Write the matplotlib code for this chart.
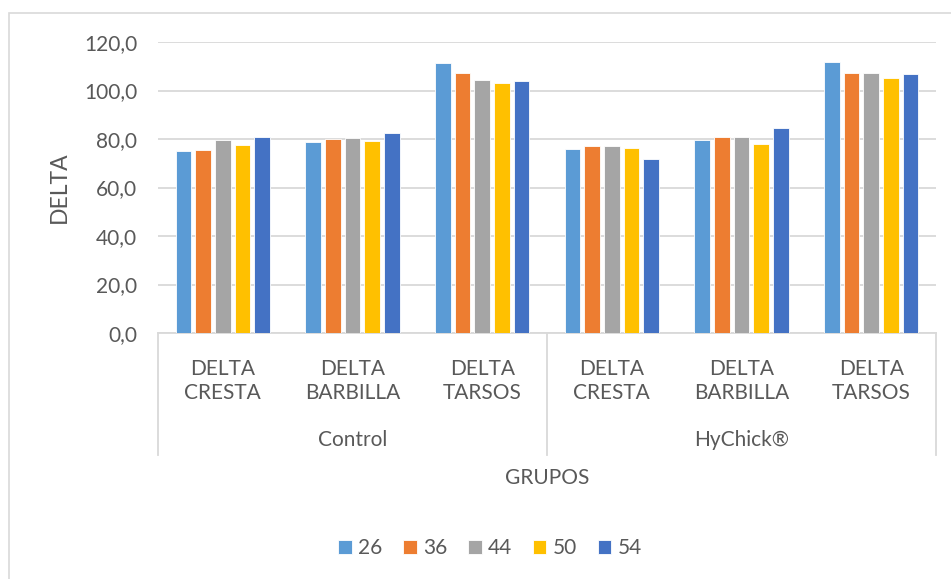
import numpy as np
import matplotlib.pyplot as plt
from matplotlib.patches import Rectangle

plt.rcParams['font.family'] = ['Lato', 'DejaVu Sans']

categories = ["DELTA\nCRESTA", "DELTA\nBARBILLA", "DELTA\nTARSOS",
              "DELTA\nCRESTA", "DELTA\nBARBILLA", "DELTA\nTARSOS"]
groups = ["Control", "HyChick®"]
series = ["26", "36", "44", "50", "54"]
v26 = [75.0, 78.9, 111.5, 75.7, 79.7, 111.9]
v36 = [75.4, 80.1, 107.4, 77.2, 80.9, 107.4]
v44 = [79.6, 80.5, 104.4, 77.1, 80.8, 107.3]
v50 = [77.4, 79.3, 103.2, 76.1, 77.8, 105.3]
v54 = [80.8, 82.6, 103.8, 71.7, 84.6, 106.9]
yticks = [0, 20, 40, 60, 80, 100, 120]

colors = ["#5B9BD5", "#ED7D31", "#A5A5A5", "#FFC000", "#4472C4"]
txt = "#595959"
grid = "#D9D9D9"

W, H = 951, 579
fig = plt.figure(figsize=(W / 100, H / 100), dpi=100)
fig.patches.append(Rectangle((9 / W, -0.1), 1.1, (H - 13) / H + 0.1,
                             transform=fig.transFigure, fill=False,
                             edgecolor=grid, lw=1.2))

ax = fig.add_axes([158 / W, (H - 333) / H, 778 / W, 291 / H])
x = np.arange(len(categories))
pitch, bw = 0.152, 0.121
for i, (name, vals) in enumerate(zip(series, [v26, v36, v44, v50, v54])):
    ax.bar(x + (i - 2) * pitch, vals, bw, color=colors[i], label=name,
           edgecolor="white", linewidth=0.6, zorder=3)

ax.set_xlim(-0.5, len(categories) - 0.5)
ax.set_ylim(0, 120)
ax.set_yticks(yticks)
ax.set_yticklabels([f"{t:.1f}".replace(".", ",") for t in yticks])
ax.tick_params(axis="y", length=0, pad=15, labelsize=15, labelcolor=txt)
ax.tick_params(axis="x", length=0, labelbottom=False)
ax.grid(axis="y", color=grid, lw=1.3, zorder=0)
for s in ["top", "right", "left"]:
    ax.spines[s].set_visible(False)
ax.spines["bottom"].set_color(grid)
ax.spines["bottom"].set_linewidth(1.3)

tr = ax.get_xaxis_transform()
for xv in [-0.5, 2.5, 5.5]:
    ax.plot([xv, xv], [0, -0.419], transform=tr, color=grid, lw=1.3,
            clip_on=False)
for xi, lab in zip(x, categories):
    ax.text(xi, -0.165, lab, transform=tr, ha="center", va="center",
            fontsize=15, color=txt, linespacing=1.25)
for gi, g in enumerate(groups):
    ax.text(gi * 3 + 1, -0.368, g, transform=tr, ha="center", va="center",
            fontsize=15, color=txt)
ax.text(0.5, -0.498, "GRUPOS", transform=ax.transAxes, ha="center",
        va="center", fontsize=15, color=txt)
fig.text(59 / W, (H - 187) / H, "DELTA", rotation=90, ha="center",
         va="center", fontsize=16.5, color=txt)

fig.legend(loc="center", bbox_to_anchor=(490 / W, (H - 548) / H), ncol=5,
           frameon=False, fontsize=15, labelcolor=txt, handlelength=0.65,
           handleheight=0.65, handletextpad=0.3, columnspacing=1.0)

fig.savefig("out.png", dpi=100)
